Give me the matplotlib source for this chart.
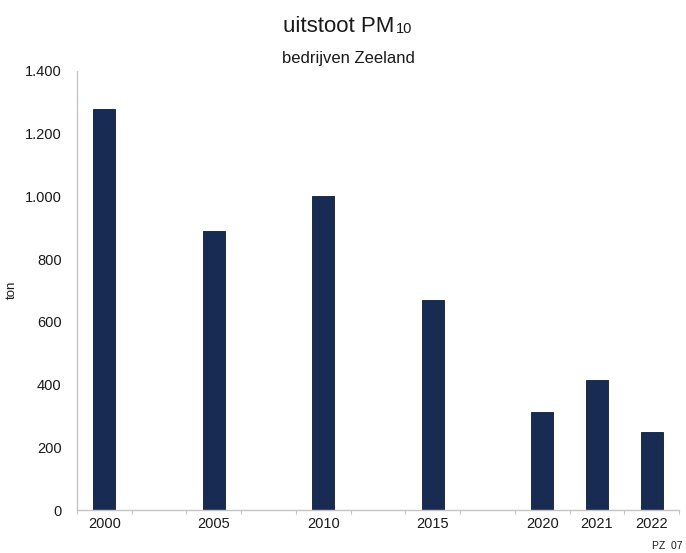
import numpy as np
import matplotlib
matplotlib.use("Agg")
import matplotlib.pyplot as plt
from matplotlib.ticker import FuncFormatter, FixedLocator

plt.rcParams["font.family"] = ["Liberation Sans", "DejaVu Sans"]

# Category slots along the x axis; blank slots keep the 5-year spacing
categories = ["2000", "", "2005", "", "2010", "", "2015", "", "2020", "2021", "2022"]
# PM10 emissions (ton) per slot; NaN for the blank slots
emissions = [1280, np.nan, 890, np.nan, 1000, np.nan, 670, np.nan, 312, 415, 249]
y_ticks = [0, 200, 400, 600, 800, 1000, 1200, 1400]

bar_color = "#182b52"
text_color = "#1a1a1a"
axis_color = "#c4c4c4"

fig = plt.figure(figsize=(6.86, 5.53), dpi=100)
ax = fig.add_axes([77 / 686, 1 - 510 / 553, (679 - 77) / 686, (510 - 71) / 553])

x = np.arange(len(categories))
vals = np.array(emissions, dtype=float)
mask = ~np.isnan(vals)
ax.bar(x[mask], vals[mask], width=0.4, color=bar_color, edgecolor="#0f1a33", linewidth=0.6)

ax.set_xlim(-0.5, len(categories) - 0.5)
ax.set_ylim(0, 1400)

ax.set_xticks(x[mask])
ax.set_xticklabels([c for c, m in zip(categories, mask) if m], fontsize=10.5, color=text_color)
ax.xaxis.set_minor_locator(FixedLocator(np.arange(len(categories) + 1) - 0.5))
ax.tick_params(axis="x", which="major", length=0, pad=5)
ax.tick_params(axis="x", which="minor", length=3, color=axis_color, width=0.8)

ax.set_yticks(y_ticks)
ax.yaxis.set_major_formatter(FuncFormatter(lambda v, _: f"{int(v):,}".replace(",", ".")))
ax.tick_params(axis="y", length=0, pad=11, labelsize=10.5, labelcolor=text_color)

for side in ("top", "right"):
    ax.spines[side].set_visible(False)
ax.spines["left"].set_color(axis_color)
ax.spines["bottom"].set_color(axis_color)
ax.spines["left"].set_linewidth(1.0)
ax.spines["bottom"].set_linewidth(1.0)

fig.text(12 / 686, 1 - 290 / 553, "ton", rotation=90, ha="center", va="center",
         fontsize=9.5, color=text_color)

# Title with subscript part drawn right after the main text
title = fig.text(339 / 686, 1 - 27 / 553, "uitstoot PM", ha="center", va="center",
                 fontsize=16, color=text_color)
ax.annotate("10", xy=(1.0, 0.0), xycoords=title, xytext=(0.5, 1.0), textcoords="offset points",
            ha="left", va="bottom", fontsize=10.5, color=text_color, annotation_clip=False)
fig.text(348 / 686, 1 - 59 / 553, "bedrijven Zeeland", ha="center", va="center",
         fontsize=12, color=text_color)

fig.text(683 / 686, 1 - 546 / 553, "PZ  07", ha="right", va="center", fontsize=7.5,
         color=text_color)

fig.savefig("out.png", dpi=100, facecolor="white")
